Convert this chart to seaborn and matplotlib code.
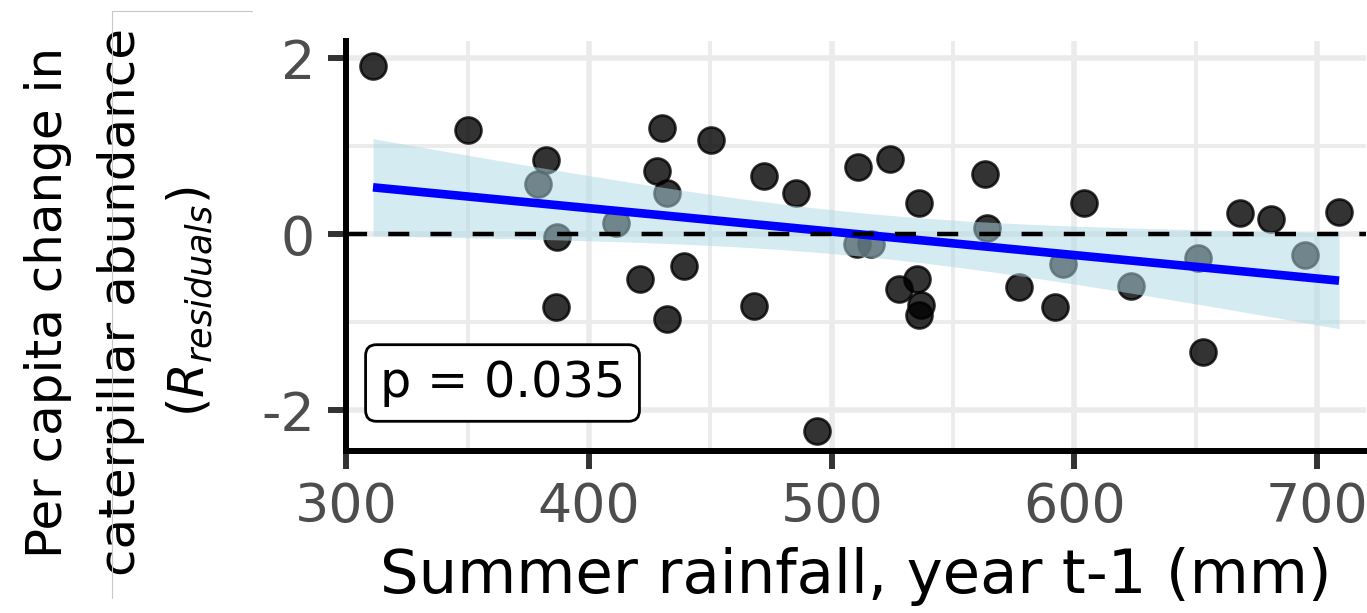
import numpy as np
import pandas as pd
import matplotlib
matplotlib.use("Agg")
import matplotlib.pyplot as plt
import seaborn as sns
from matplotlib.ticker import FixedLocator, MultipleLocator
from matplotlib.lines import Line2D

# ---------------- data ----------------
rainfall = [311.0, 350.3, 382.1, 379.1, 386.9, 386.2, 411.0, 421.1, 429.9, 428.1,
            432.0, 432.0, 439.1, 450.1, 472.1, 468.0, 485.1, 494.1, 511.0, 510.5,
            516.0, 524.0, 536.1, 535.3, 527.7, 536.6, 535.9, 563.0, 563.8, 577.1,
            603.9, 592.0, 595.1, 623.2, 651.0, 653.1, 668.1, 681.1, 695.0, 709.0]
residuals = [1.916, 1.185, 0.844, 0.568, -0.034, -0.823, 0.125, -0.508, 1.205, 0.719,
             0.475, -0.966, -0.357, 1.072, 0.666, -0.811, 0.466, -2.232, 0.761, -0.110,
             -0.110, 0.852, 0.352, -0.511, -0.625, -0.803, -0.917, 0.682, 0.068, -0.602,
             0.359, -0.830, -0.338, -0.588, -0.273, -1.341, 0.246, 0.170, -0.235, 0.250]
x_ticks = [300, 400, 500, 600, 700]
x_tick_labels = ["300", "400", "500", "600", "700"]
y_ticks = [-2, 0, 2]
y_tick_labels = ["-2", "0", "2"]
p_label = "p = 0.035"
x_title = "Summer rainfall, year t-1 (mm)"
y_title = "Per capita change in\ncaterpillar abundance"
y_title_math = r"$(R_{residuals})$"

# ---------------- style ----------------
sns.set_theme(style="white")
plt.rcParams["font.family"] = ["DejaVu Sans"]
plt.rcParams["mathtext.fontset"] = "dejavusans"

W, H = 1367, 613
fig = plt.figure(figsize=(W / 100, H / 100), dpi=100)
ax_left, ax_right, ax_top, ax_bottom = 346.3, 1366.0, 41.0, 450.5
ax = fig.add_axes([ax_left / W, 1 - ax_bottom / H,
                   (ax_right - ax_left) / W, (ax_bottom - ax_top) / H])

df = pd.DataFrame({"rain": rainfall, "res": residuals})

# points
sns.scatterplot(data=df, x="rain", y="res", ax=ax, color="black", alpha=0.8,
                s=350, edgecolor="black", linewidth=1.9, zorder=2, legend=False)

# OLS fit with analytic 95% confidence band (as geom_smooth(method="lm"))
x = df["rain"].to_numpy()
y = df["res"].to_numpy()
n = len(x)
grid = np.linspace(x.min(), x.max(), 200)
X = np.column_stack([np.ones_like(x), x])
beta = np.linalg.lstsq(X, y, rcond=None)[0]
resid = y - X @ beta
s2 = resid @ resid / (n - 2)
xbar = x.mean()
sxx = ((x - xbar) ** 2).sum()
fit = beta[0] + beta[1] * grid
se = np.sqrt(s2 * (1.0 / n + (grid - xbar) ** 2 / sxx))
t_crit = 2.0244  # Student t, 0.975 quantile, df = 38
ax.fill_between(grid, fit - t_crit * se, fit + t_crit * se,
                color="lightblue", alpha=0.5, lw=0, zorder=3)

sns.regplot(data=df, x="rain", y="res", ax=ax, scatter=False, ci=None,
            color="blue", truncate=True,
            line_kws={"lw": 6.2, "zorder": 4, "solid_capstyle": "butt"})

ax.axhline(0, color="black", lw=3.2, ls=(0, (4.75, 4.75)), zorder=5)

# ---------------- axes ----------------
ax.set_xlim(300, 720.1)
ax.set_ylim(-2.457, 2.197)
ax.xaxis.set_major_locator(FixedLocator(x_ticks))
ax.set_xticklabels(x_tick_labels)
ax.yaxis.set_major_locator(FixedLocator(y_ticks))
ax.set_yticklabels(y_tick_labels)
ax.xaxis.set_minor_locator(MultipleLocator(50))
ax.yaxis.set_minor_locator(MultipleLocator(1))

ax.set_axisbelow(True)
ax.grid(which="major", color="#ebebeb", lw=4.0)
ax.grid(which="minor", color="#ebebeb", lw=2.8)

ax.tick_params(which="minor", length=0, bottom=False, left=False)
ax.tick_params(which="major", bottom=True, left=True, direction="out",
               length=13, width=4.3, color="#333333",
               labelsize=38.8, labelcolor="#4d4d4d")
ax.tick_params(axis="x", pad=8.8)
ax.tick_params(axis="y", pad=9.4)

for side in ("top", "right"):
    ax.spines[side].set_visible(False)
for side in ("left", "bottom"):
    ax.spines[side].set_color("black")
    ax.spines[side].set_linewidth(4.3)
    ax.spines[side].set_capstyle("projecting")

ax.set_xlabel(x_title, fontsize=43.8, color="black", labelpad=10.4)
ax.set_ylabel(y_title, fontsize=36, color="black", linespacing=1.66)
ax.yaxis.set_label_coords((144.8 - ax_left) / (ax_right - ax_left),
                          (ax_bottom - 302) / (ax_bottom - ax_top))
ax.text((204 - ax_left) / (ax_right - ax_left),
        (ax_bottom - 302) / (ax_bottom - ax_top),
        y_title_math, transform=ax.transAxes, fontsize=36, color="black",
        rotation=90, rotation_mode="anchor", ha="center", va="baseline")

# p-value label
ax.text(364.36, -1.849, p_label, fontsize=35.5, color="black",
        ha="center", va="baseline", zorder=6,
        bbox=dict(boxstyle="round,pad=0.29,rounding_size=0.22",
                  fc="white", ec="black", lw=2))

# thin grey frame fragment at top left of the picture
fig.add_artist(Line2D([111.7 / W, 111.7 / W], [1 - 11 / H, 1 - 598 / H],
                      transform=fig.transFigure, color="#c8c8c8", lw=0.8))
fig.add_artist(Line2D([111.7 / W, 251.7 / W], [1 - 11 / H, 1 - 11 / H],
                      transform=fig.transFigure, color="#c8c8c8", lw=0.8))

fig.savefig("out.png", dpi=100)
